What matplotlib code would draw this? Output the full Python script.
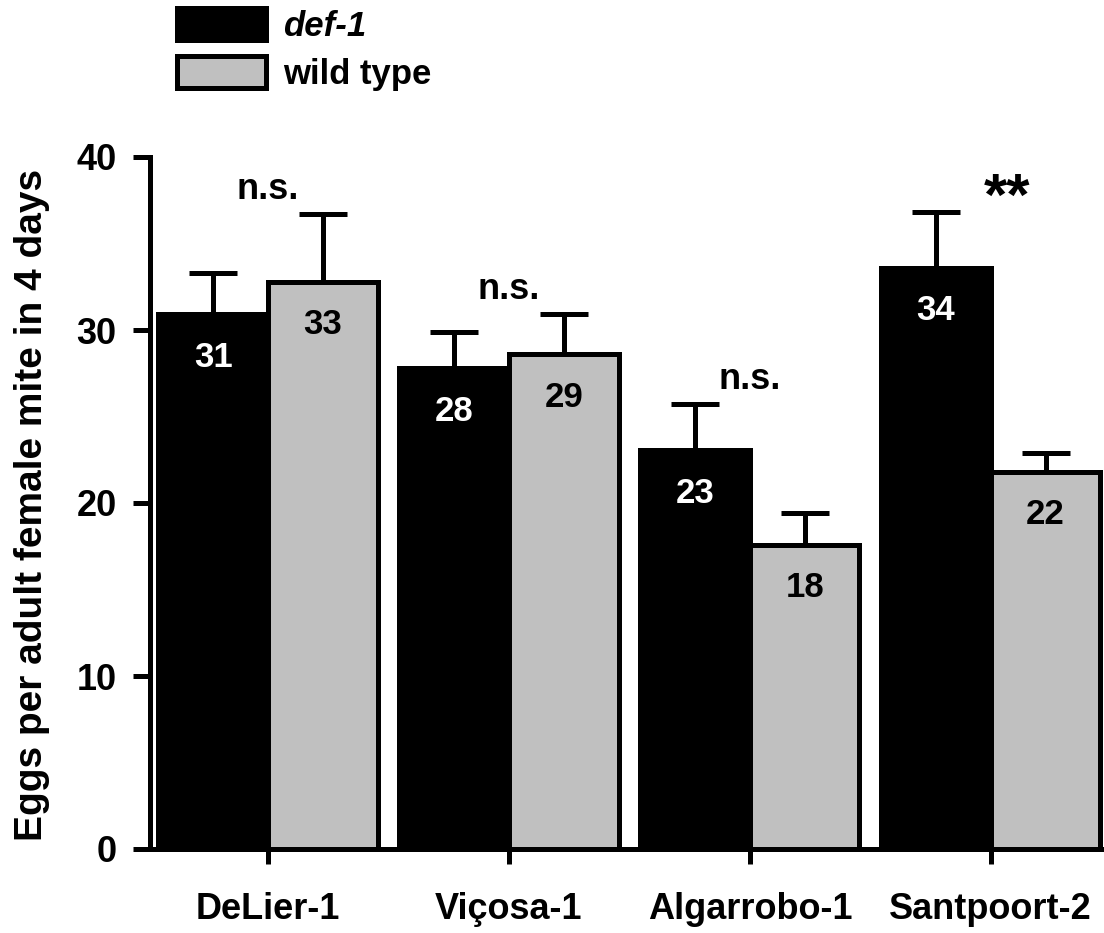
import matplotlib
matplotlib.use("Agg")
import matplotlib.pyplot as plt
from matplotlib.patches import Patch
import numpy as np

plt.rcParams['font.family'] = ['Liberation Sans', 'DejaVu Sans']
plt.rcParams['font.weight'] = 'bold'

# data
populations = ['DeLier-1', 'Viçosa-1', 'Algarrobo-1', 'Santpoort-2']
def1_mean = [30.9, 27.8, 23.05, 33.6]
def1_err = [2.4, 2.1, 2.65, 3.2]
wt_mean = [32.8, 28.6, 17.6, 21.8]
wt_err = [3.9, 2.3, 1.8, 1.1]
significance = ['n.s.', 'n.s.', 'n.s.', '**']

grey = '#c0c0c0'
lw = 3.6
width = 0.455

fig = plt.figure(figsize=(11.04, 9.33), dpi=100)
ax = fig.add_axes([150 / 1104, 1 - 849 / 933, 954 / 1104, (849 - 157) / 933])

x = np.arange(len(populations))
ax.bar(x - width / 2, def1_mean, width, color='black', edgecolor='black',
       linewidth=lw, label='def-1')
ax.bar(x + width / 2, wt_mean, width, color=grey, edgecolor='black',
       linewidth=lw, label='wild type')

# upward error bars only
ax.errorbar(x - width / 2, def1_mean, yerr=[np.zeros(4), def1_err], fmt='none',
            ecolor='black', elinewidth=lw, capsize=17, capthick=lw, clip_on=False)
ax.errorbar(x + width / 2, wt_mean, yerr=[np.zeros(4), wt_err], fmt='none',
            ecolor='black', elinewidth=lw, capsize=17, capthick=lw, clip_on=False)

# rounded values inside the bars
for xi, m in zip(x, def1_mean):
    ax.annotate(f'{m:.0f}', (xi - width / 2, m), xytext=(0, -31),
                textcoords='offset points', ha='center', va='center',
                color='white', fontsize=25, fontweight='bold')
for xi, m in zip(x, wt_mean):
    ax.annotate(f'{m:.0f}', (xi + width / 2, m), xytext=(0, -31),
                textcoords='offset points', ha='center', va='center',
                color='black', fontsize=25, fontweight='bold')

# significance marks above each pair
for xi, s, a, ea, b, eb in zip(x, significance, def1_mean, def1_err, wt_mean, wt_err):
    top = max(a + ea, b + eb)
    if s == '**':
        ax.annotate(s, (xi, top), xytext=(12, 9), textcoords='offset points',
                    ha='center', va='center', fontsize=43, fontweight='bold')
    else:
        ax.annotate(s, (xi, top), xytext=(0, 5), textcoords='offset points',
                    ha='center', va='bottom', fontsize=26, fontweight='bold')

ax.set_xlim(-0.49, 3.47)
ax.set_ylim(0, 40)
ax.set_yticks([0, 10, 20, 30, 40])
ax.set_xticks(x)
ax.set_xticklabels(populations, fontsize=26, fontweight='bold')
ax.tick_params(axis='y', labelsize=26, width=lw, length=12, pad=12)
ax.tick_params(axis='x', width=lw, length=11, pad=20)
for t in ax.get_yticklabels():
    t.set_fontweight('bold')

ax.spines['top'].set_visible(False)
ax.spines['right'].set_visible(False)
ax.spines['left'].set_linewidth(lw)
ax.spines['bottom'].set_linewidth(lw)

ax.set_ylabel('Eggs per adult female mite in 4 days', fontsize=28, fontweight='bold')
ax.yaxis.set_label_coords(50 / 1104, 1 - 505 / 933, transform=fig.transFigure)

handles = [Patch(facecolor='black', edgecolor='black', linewidth=lw),
           Patch(facecolor=grey, edgecolor='black', linewidth=lw)]
leg = fig.legend(handles, ['def-1', 'wild type'], loc='upper left',
                 bbox_to_anchor=(177 / 1104, 1 - 8 / 933), frameon=False,
                 fontsize=25, handlelength=2.55, handleheight=1.05,
                 handletextpad=0.5, labelspacing=0.38, borderpad=0, borderaxespad=0)
leg.get_texts()[0].set_style('italic')
for t in leg.get_texts():
    t.set_fontweight('bold')

fig.savefig('out.png', dpi=100)
